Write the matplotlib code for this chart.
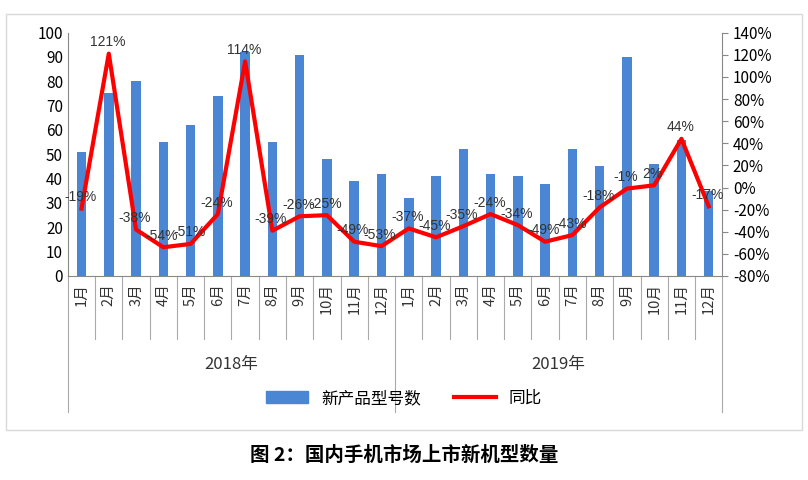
import matplotlib.pyplot as plt
import matplotlib.patches as mpatches
import numpy as np

plt.rcParams['font.family'] = ['Noto Sans CJK SC']

months = [f'{i}月' for i in range(1, 13)] * 2
years = ['2018年', '2019年']
new_models = [51, 75, 80, 55, 62, 74, 92, 55, 91, 48, 39, 42,
              32, 41, 52, 42, 41, 38, 52, 45, 90, 46, 56, 35]
yoy = [-19, 121, -38, -54, -51, -24, 114, -39, -26, -25, -49, -53,
       -37, -45, -35, -24, -34, -49, -43, -18, -1, 2, 44, -17]

fig = plt.figure(figsize=(8.08, 4.8), dpi=100)
# outer frame
fig.patches.append(mpatches.Rectangle((0.007, 0.105), 0.985, 0.865, transform=fig.transFigure,
                                      fill=False, edgecolor='#d9d9d9', lw=1))
ax = fig.add_axes([0.084, 0.425, 0.81, 0.507])
x = np.arange(len(new_models))
ax.bar(x, new_models, width=0.35, color='#4a86d4', zorder=2)
ax.set_xlim(-0.5, len(x) - 0.5)
ax.set_ylim(0, 100)
ax.set_yticks(range(0, 101, 10))
ax.tick_params(axis='y', labelsize=11, length=0)
ax.set_xticks([])
for s in ['top', 'right']:
    ax.spines[s].set_visible(False)
ax.spines['left'].set_color('#888888')
ax.spines['bottom'].set_color('#888888')

ax2 = ax.twinx()
ax2.plot(x, yoy, color='#ff0000', lw=3, zorder=3)
ax2.set_ylim(-80, 140)
ax2.set_yticks(range(-80, 141, 20))
ax2.set_yticklabels([f'{v}%' for v in range(-80, 141, 20)])
ax2.tick_params(axis='y', labelsize=11, length=4, color='#888888')
for s in ['top', 'left', 'bottom']:
    ax2.spines[s].set_visible(False)
ax2.spines['right'].set_color('#888888')
for xi, v in zip(x, yoy):
    ax2.text(xi - 0.05, v + 4, f'{v}%', ha='center', va='bottom', fontsize=10, color='#333333',
             family='Liberation Sans', zorder=4)

# category axis: months and years
n = len(x)
for i in range(n + 1):
    xa = i / n
    y0 = -0.56 if i in (0, 12, 24) else -0.26
    ax.plot([xa, xa], [0, y0], transform=ax.transAxes, color='#aaaaaa', lw=0.8, clip_on=False)
for i, m in enumerate(months):
    ax.text((i + 0.5) / n, -0.03, m, transform=ax.transAxes, rotation=90, ha='center', va='top',
            fontsize=10.5, color='#333333')
for j, yl in enumerate(years):
    ax.text((j * 12 + 6) / n, -0.33, yl, transform=ax.transAxes, ha='center', va='top',
            fontsize=12, color='#333333')

handles = [mpatches.Patch(color='#4a86d4', label='新产品型号数'),
           plt.Line2D([], [], color='#ff0000', lw=3, label='同比')]
fig.legend(handles=handles, loc='center', bbox_to_anchor=(0.5, 0.17), ncol=2, frameon=False,
           fontsize=12, handlelength=2.5)

fig.text(0.5, 0.04, '图 2：国内手机市场上市新机型数量', ha='center', fontsize=14, weight='bold')

fig.savefig('out.png', dpi=100)
